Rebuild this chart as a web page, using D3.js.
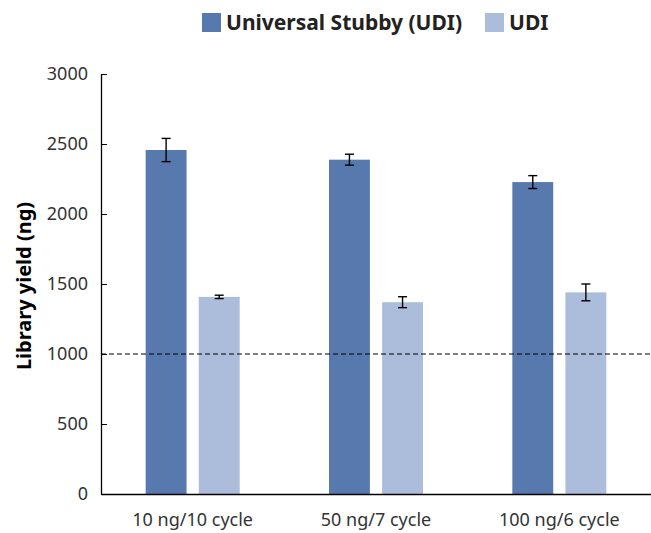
<!DOCTYPE html>
<html>
<head>
<meta charset="utf-8">
<script src="https://cdn.jsdelivr.net/npm/d3@7"></script>
<style>
  body { margin: 0; background: #fff; }
  text { font-family: "Noto Sans", sans-serif; }
</style>
</head>
<body>
<div id="chart"></div>
<script>
var categories = ["10 ng/10 cycle", "50 ng/7 cycle", "100 ng/6 cycle"];
var seriesNames = ["Universal Stubby (UDI)", "UDI"];
var stubbyValues = [2457, 2388, 2228];
var stubbyErrors = [83, 39, 46];
var udiValues = [1408, 1370, 1440];
var udiErrors = [12, 39, 60];
var yTicks = [0, 500, 1000, 1500, 2000, 2500, 3000];
var threshold = 1000;
var colors = ["#5879ae", "#acbcdb"];

var margin = {top: 74, right: 0, bottom: 39, left: 101},
    width = 651 - margin.left - margin.right,
    height = 533 - margin.top - margin.bottom;

var svg = d3.select("#chart")
    .append("svg")
    .attr("width", 651)
    .attr("height", 533);

var g = svg.append("g")
    .attr("transform", "translate(" + margin.left + "," + margin.top + ")");

var x0 = d3.scaleBand().domain(categories).range([0, width]);
var x1 = d3.scaleBand().domain(seriesNames).range([-47, 47]).paddingInner(0.23);
var y = d3.scaleLinear().domain([0, 3000]).range([height, 0]);

var rows = categories.map(function (c, i) {
    return [
        {cat: c, s: seriesNames[0], v: stubbyValues[i], e: stubbyErrors[i], color: colors[0]},
        {cat: c, s: seriesNames[1], v: udiValues[i], e: udiErrors[i], color: colors[1]}
    ];
});

var group = g.selectAll(".grp")
    .data(rows)
    .enter()
    .append("g")
    .attr("class", "grp")
    .attr("transform", function (d) { return "translate(" + (x0(d[0].cat) + x0.bandwidth() / 2) + ",0)"; });

group.selectAll("rect")
    .data(function (d) { return d; })
    .enter()
    .append("rect")
    .attr("x", function (d) { return x1(d.s); })
    .attr("y", function (d) { return y(d.v); })
    .attr("width", x1.bandwidth())
    .attr("height", function (d) { return height - y(d.v); })
    .style("fill", function (d) { return d.color; });

// error bars
var err = group.selectAll(".err")
    .data(function (d) { return d; })
    .enter()
    .append("g")
    .attr("class", "err")
    .attr("stroke", "#000")
    .attr("stroke-width", 1.4);

err.append("line")
    .attr("x1", function (d) { return x1(d.s) + x1.bandwidth() / 2; })
    .attr("x2", function (d) { return x1(d.s) + x1.bandwidth() / 2; })
    .attr("y1", function (d) { return y(d.v + d.e); })
    .attr("y2", function (d) { return y(d.v - d.e); });

[1, -1].forEach(function (sign) {
    err.append("line")
        .attr("x1", function (d) { return x1(d.s) + x1.bandwidth() / 2 - 4.5; })
        .attr("x2", function (d) { return x1(d.s) + x1.bandwidth() / 2 + 4.5; })
        .attr("y1", function (d) { return y(d.v + sign * d.e); })
        .attr("y2", function (d) { return y(d.v + sign * d.e); });
});

// threshold line
g.append("line")
    .attr("x1", 0)
    .attr("x2", width)
    .attr("y1", y(threshold))
    .attr("y2", y(threshold))
    .attr("stroke", "#000")
    .attr("stroke-width", 1)
    .attr("stroke-dasharray", "5,3");

// y axis
var yAxis = g.append("g")
    .call(d3.axisLeft(y).tickValues(yTicks).tickFormat(d3.format("d"))
        .tickSizeInner(-6).tickSizeOuter(0).tickPadding(13));
yAxis.select(".domain").attr("stroke", "#000").attr("stroke-width", 1.3);
yAxis.selectAll(".tick line").attr("stroke", "#000");
yAxis.selectAll("text")
    .attr("font-size", "18px")
    .attr("fill", "#333")
    .style("font-family", "Noto Sans");

// x axis
var xAxis = g.append("g")
    .attr("transform", "translate(0," + height + ")")
    .call(d3.axisBottom(x0).tickSize(0).tickPadding(19));
xAxis.select(".domain").attr("stroke", "#000").attr("stroke-width", 1.3);
xAxis.selectAll("text")
    .attr("font-size", "18px")
    .attr("fill", "#333")
    .style("font-family", "Noto Sans");

// y title
svg.append("text")
    .attr("transform", "translate(31,286) rotate(-90)")
    .attr("text-anchor", "middle")
    .attr("font-size", "20px")
    .attr("font-weight", "bold")
    .attr("fill", "#000")
    .text("Library yield (ng)");

// legend
var legendX = [202, 485];
var legend = svg.selectAll(".legend")
    .data(seriesNames)
    .enter()
    .append("g")
    .attr("class", "legend")
    .attr("transform", function (d, i) { return "translate(" + legendX[i] + ",13)"; });

legend.append("rect")
    .attr("width", 19)
    .attr("height", 19)
    .style("fill", function (d, i) { return colors[i]; });

legend.append("text")
    .attr("x", 24)
    .attr("y", 17)
    .attr("font-size", "21px")
    .attr("font-weight", "bold")
    .attr("fill", "#222")
    .text(function (d) { return d; });
</script>
</body>
</html>
